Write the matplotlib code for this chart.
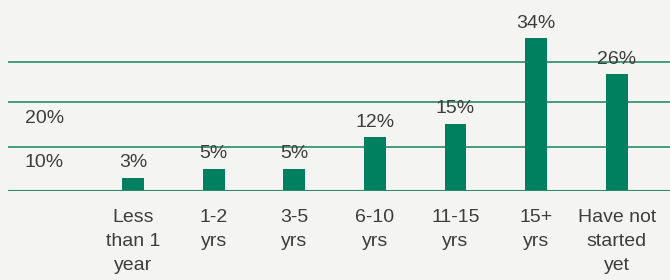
import matplotlib.pyplot as plt

# datos
categorias = ['Less\nthan 1\nyear', '1-2\nyrs', '3-5\nyrs', '6-10\nyrs', '11-15\nyrs', '15+\nyrs', 'Have not\nstarted\nyet']
valores = [3, 5, 5, 12, 15, 34, 26]
etiquetas = ['3%', '5%', '5%', '12%', '15%', '34%', '26%']
lineas_guia = [9.8, 19.8, 28.7]
etiquetas_eje = ['10%', '20%']

verde = '#00805e'
gris = '#3d3d3d'
fondo = '#f4f4f2'

plt.rcParams['font.family'] = ['Liberation Sans', 'DejaVu Sans']

fig = plt.figure(figsize=(6.7, 2.8), dpi=100)
fig.patch.set_facecolor(fondo)
ax = fig.add_axes([8 / 670, 89 / 280, 662 / 670, 191 / 280])
ax.set_facecolor(fondo)

x = list(range(len(categorias)))
barras = ax.bar(x, valores, width=0.27, color=verde, zorder=3)

for b, txt in zip(barras, etiquetas):
    ax.annotate(txt, (b.get_x() + b.get_width() / 2, b.get_height()),
                xytext=(0, 7.5), textcoords='offset points',
                ha='center', va='baseline', fontsize=14, color=gris)

# lineas horizontales verdes
for v in lineas_guia:
    ax.axhline(v, color='#2a8c6c', linewidth=1.2, zorder=1)
ax.axhline(0, color='#2a8c6c', linewidth=1.5, zorder=4)

# etiquetas del eje colocadas debajo de las lineas, como en la original
ax.text(-1.34, 15.2, etiquetas_eje[1], ha='left', va='baseline', fontsize=14, color=gris)
ax.text(-1.34, 5.4, etiquetas_eje[0], ha='left', va='baseline', fontsize=14, color=gris)

ax.set_xlim(-1.55, 6.66)
ax.set_ylim(0, 191 / 4.5)
ax.set_xticks(x)
ax.set_xticklabels(categorias, fontsize=14, color=gris, linespacing=1.55)
ax.tick_params(axis='x', length=0, pad=13)
ax.set_yticks([])
for s in ax.spines.values():
    s.set_visible(False)

fig.savefig('out.png', dpi=100, facecolor=fondo)
